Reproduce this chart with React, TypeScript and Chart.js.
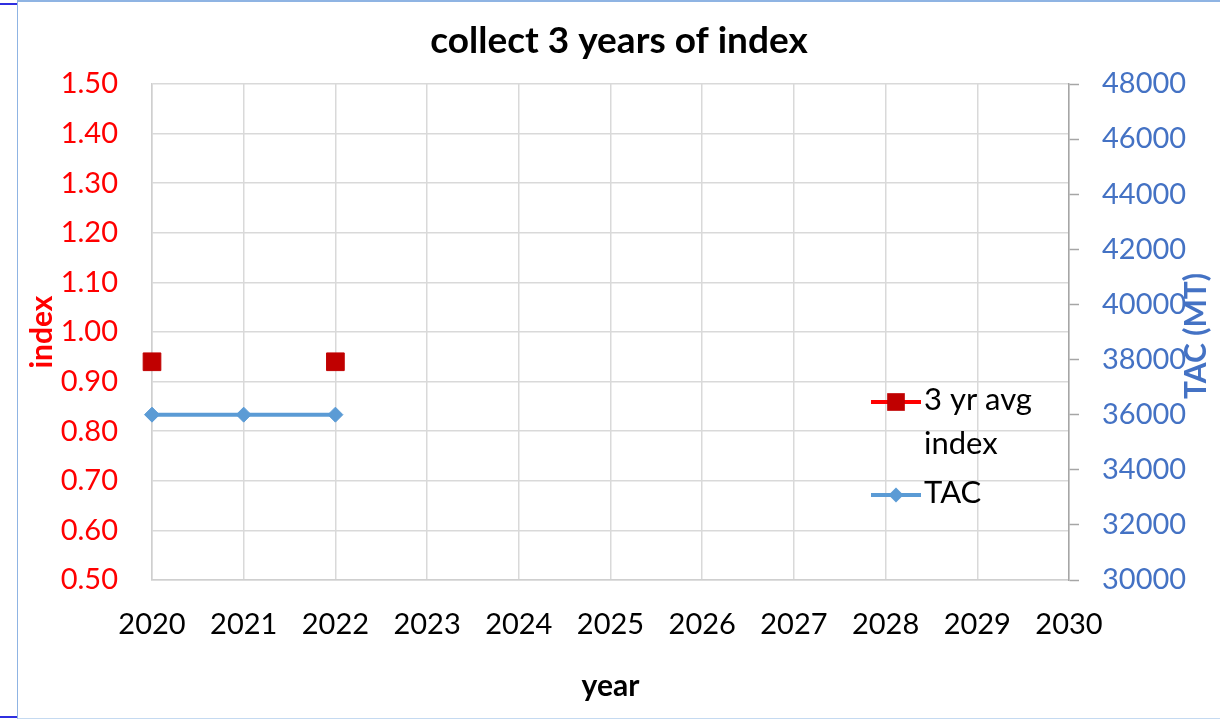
import React, { useEffect, useRef } from "react";
import { Chart, registerables } from "chart.js";

Chart.register(...registerables);

const FONT = "Lato, 'Noto Sans', sans-serif";

const years = ["2020", "2021", "2022", "2023", "2024", "2025", "2026", "2027", "2028", "2029", "2030"];
const avgIndex: (number | null)[] = [0.94, null, 0.94, null, null, null, null, null, null, null, null];
const tac: (number | null)[] = [36000, 36000, 36000, null, null, null, null, null, null, null, null];

const indexMin = 0.5;
const indexMax = 1.5;
const indexStep = 0.1;
const tacMin = 30000;
const tacMax = 48000;
const tacStep = 2000;

const chartTitle = "collect 3 years of index";
const xTitle = "year";
const leftTitle = "index";
const rightTitle = "TAC (MT)";
const seriesNames = ["3 yr avg index", "TAC"];

const insideLegend = {
  id: "insideLegend",
  afterDraw(chart: any, _args: any, opts: any) {
    const ctx = chart.ctx as CanvasRenderingContext2D;
    ctx.save();
    ctx.font = `${opts.size}px ${FONT}`;
    ctx.textBaseline = "alphabetic";
    ctx.textAlign = "left";
    let baseline = opts.y;
    chart.data.datasets.forEach((ds: any) => {
      const words = String(ds.label).split(" ");
      const lines: string[] = [];
      let cur = "";
      words.forEach((w) => {
        const test = cur ? cur + " " + w : w;
        if (cur && ctx.measureText(test).width > opts.maxWidth) {
          lines.push(cur);
          cur = w;
        } else cur = test;
      });
      if (cur) lines.push(cur);
      const midY = baseline - opts.markOffset;
      const cx = opts.x + opts.lineLen / 2;
      ctx.strokeStyle = ds.borderColor;
      ctx.lineWidth = ds.borderWidth;
      ctx.beginPath();
      ctx.moveTo(opts.x, midY);
      ctx.lineTo(opts.x + opts.lineLen, midY);
      ctx.stroke();
      ctx.fillStyle = ds.pointBackgroundColor;
      ctx.beginPath();
      const r = ds.pointRadius;
      if (ds.pointStyle === "rect") {
        const s = Math.SQRT1_2 * r;
        ctx.rect(cx - s, midY - s, 2 * s, 2 * s);
      } else {
        ctx.moveTo(cx - r, midY);
        ctx.lineTo(cx, midY - r);
        ctx.lineTo(cx + r, midY);
        ctx.lineTo(cx, midY + r);
        ctx.closePath();
      }
      ctx.fill();
      ctx.fillStyle = "#000000";
      lines.forEach((l, i) => {
        ctx.fillText(l, opts.x + opts.lineLen + opts.textGap, baseline + i * opts.lineGap);
      });
      baseline += (lines.length - 1) * opts.lineGap + opts.itemGap;
    });
    ctx.restore();
  },
};

const rightAxisTitle = {
  id: "rightAxisTitle",
  afterDraw(chart: any, _args: any, opts: any) {
    const ctx = chart.ctx as CanvasRenderingContext2D;
    ctx.save();
    ctx.translate(opts.x, opts.y);
    ctx.rotate(-Math.PI / 2);
    ctx.font = `bold ${opts.size}px ${FONT}`;
    ctx.fillStyle = opts.color;
    ctx.textAlign = "center";
    ctx.textBaseline = "middle";
    ctx.fillText(opts.text, 0, 0);
    ctx.restore();
  },
};

export default function App() {
  const ref = useRef<HTMLCanvasElement | null>(null);

  useEffect(() => {
    document.body.style.margin = "0";
    if (!ref.current) return;
    const chart = new Chart(ref.current, {
      type: "line",
      data: {
        labels: years,
        datasets: [
          {
            label: seriesNames[0],
            data: avgIndex,
            yAxisID: "y",
            borderColor: "#FF0000",
            borderWidth: 4,
            pointStyle: "rect",
            pointRadius: 12.5,
            pointBackgroundColor: "#C00000",
            pointBorderColor: "#C00000",
            pointBorderWidth: 1,
            spanGaps: false,
          } as any,
          {
            label: seriesNames[1],
            data: tac,
            yAxisID: "y1",
            borderColor: "#5B9BD5",
            borderWidth: 4,
            pointStyle: "rectRot",
            pointRadius: 7.5,
            pointBackgroundColor: "#5B9BD5",
            pointBorderColor: "#5B9BD5",
            pointBorderWidth: 1,
            spanGaps: false,
          } as any,
        ],
      },
      options: {
        responsive: false,
        animation: false,
        events: [],
        layout: { padding: { left: 18, right: 0, top: 0, bottom: 0 } },
        plugins: {
          legend: { display: false },
          tooltip: { enabled: false },
          title: {
            display: true,
            text: chartTitle,
            color: "#000000",
            font: { family: FONT, size: 37, weight: "bold" },
            padding: { top: 19, bottom: 20.6 },
          },
          insideLegend: {
            x: 871,
            y: 410,
            lineLen: 50,
            textGap: 3,
            size: 31,
            maxWidth: 120,
            lineGap: 44,
            itemGap: 49,
            markOffset: 8,
          },
          rightAxisTitle: {
            x: 1196,
            y: 336,
            size: 30,
            color: "#4472C4",
            text: rightTitle,
          },
        } as any,
        scales: {
          x: {
            type: "category",
            offset: false,
            afterFit: (s: any) => {
              s.height = 141;
            },
            grid: { color: "#D9D9D9", lineWidth: 1.5, drawTicks: false },
            border: { color: "#CFCFCF", width: 1.5 },
            ticks: {
              color: "#000000",
              font: { family: FONT, size: 29 },
              padding: 27,
              autoSkip: false,
              maxRotation: 0,
            },
            title: {
              display: true,
              text: xTitle,
              color: "#000000",
              font: { family: FONT, size: 30, weight: "bold" },
              padding: { top: 0, bottom: 17 },
            },
          },
          y: {
            position: "left",
            min: indexMin,
            max: indexMax,
            afterFit: (s: any) => {
              s.width = 134;
            },
            grid: { color: "#D9D9D9", lineWidth: 1.5, drawTicks: false },
            border: { color: "#CFCFCF", width: 1.5 },
            ticks: {
              stepSize: indexStep,
              color: "#FF0000",
              font: { family: FONT, size: 29 },
              padding: 34,
              callback: (v: any) => Number(v).toFixed(2),
            },
            title: {
              display: true,
              text: leftTitle,
              color: "#FF0000",
              font: { family: FONT, size: 30, weight: "bold" },
              padding: { top: 6, bottom: 0 },
            },
          },
          y1: {
            position: "right",
            min: tacMin,
            max: tacMax,
            afterFit: (s: any) => {
              s.width = 151;
            },
            grid: {
              drawOnChartArea: false,
              drawTicks: true,
              tickLength: 10,
              tickColor: "#A6A6A6",
              tickWidth: 1.5,
            },
            border: { color: "#A6A6A6", width: 1.5 },
            ticks: {
              stepSize: tacStep,
              color: "#4472C4",
              font: { family: FONT, size: 29 },
              padding: 23,
              callback: (v: any) => String(v),
            },
          },
        },
      },
      plugins: [insideLegend, rightAxisTitle],
    });
    return () => chart.destroy();
  }, []);

  return (
    <div style={{ position: "absolute", left: 0, top: 0, width: 1220, height: 721, overflow: "hidden", background: "#FFFFFF" }}>
      <div style={{ position: "absolute", left: 17, top: 0, width: 1203, height: 719, borderLeft: "1.5px solid #8FB4E3", borderTop: "2px solid #8FB4E3", borderBottom: "1.5px solid #C5DAF1", boxSizing: "border-box" }} />
      <div style={{ position: "absolute", left: 0, top: 3, width: 17, height: 2, background: "#2F2FE0" }} />
      <div style={{ position: "absolute", left: 0, top: 716, width: 17, height: 2, background: "#2F2FE0" }} />
      <canvas ref={ref} width={1220} height={721} style={{ position: "absolute", left: 0, top: 0, width: 1220, height: 721 }} />
    </div>
  );
}
